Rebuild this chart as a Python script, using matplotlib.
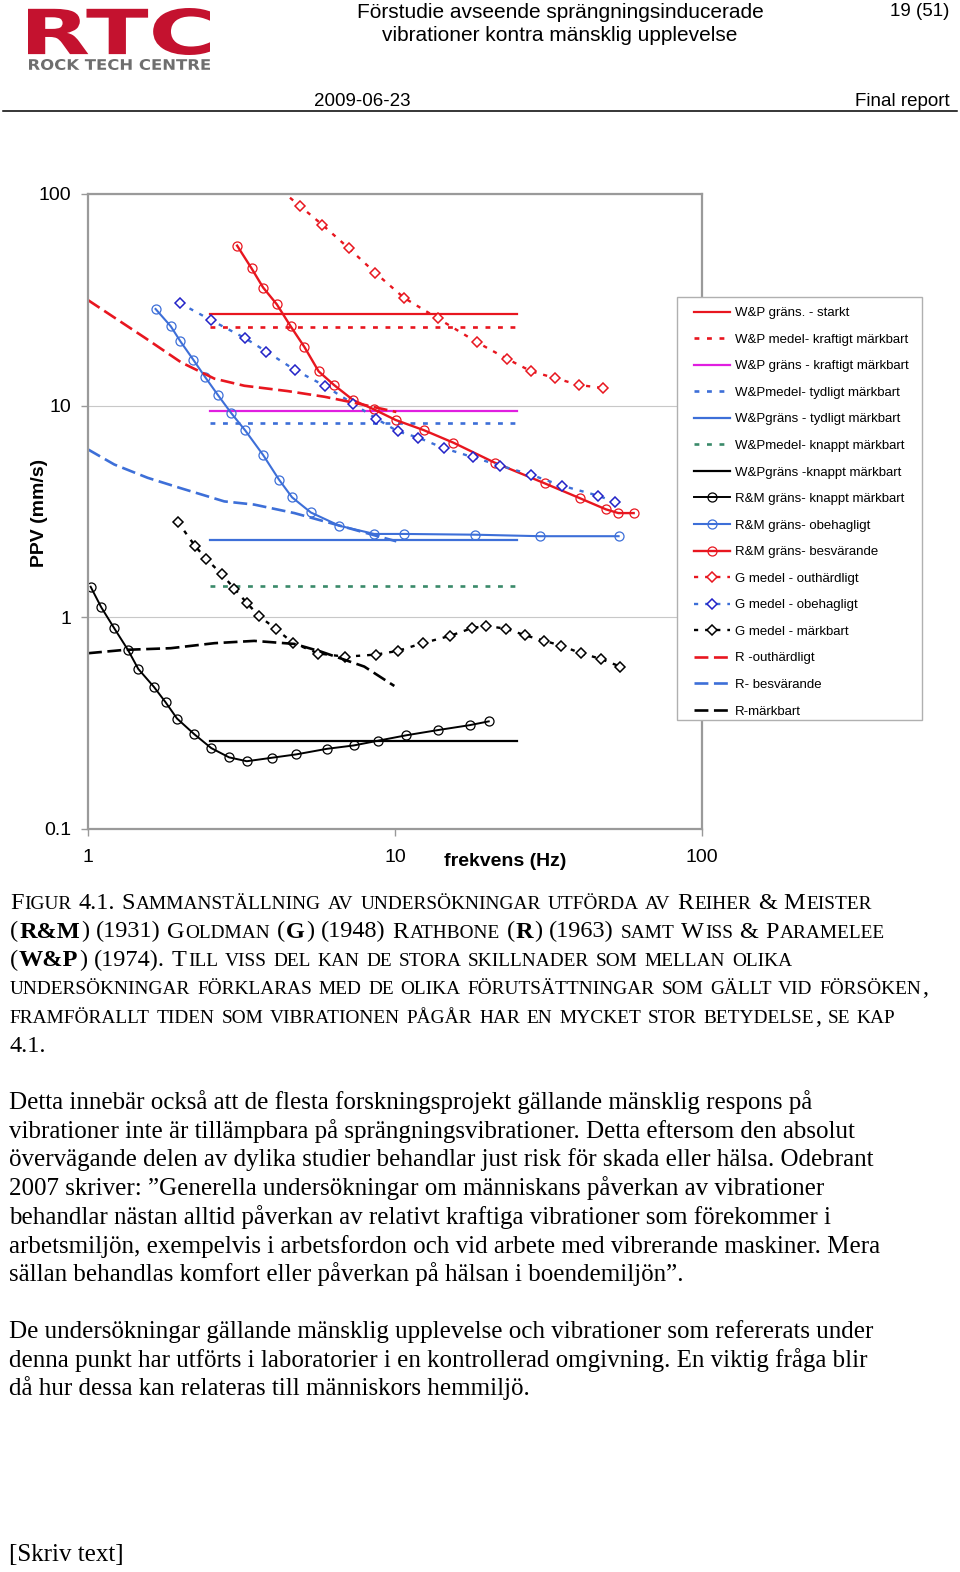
import matplotlib
matplotlib.use('Agg')
import matplotlib.pyplot as plt
from matplotlib.textpath import TextPath
from matplotlib.patches import PathPatch, Rectangle
from matplotlib.transforms import Affine2D
from matplotlib.font_manager import FontProperties
from matplotlib.ticker import NullLocator

plt.rcParams['lines.scale_dashes'] = False

# ---------------- data ----------------
wp_f = [2.5, 25]
wp_starkt = 27.1
wp_kraftigt_medel = 23.6
wp_kraftigt_grans = 9.45
wp_tydligt_medel = 8.24
wp_tydligt_grans = 2.30
wp_knappt_medel = 1.40
wp_knappt_grans = 0.26

rm_knapp_f = [1.02, 1.105, 1.215, 1.35, 1.458, 1.64, 1.79, 1.95, 2.22, 2.52, 2.88, 3.29, 3.97, 4.76,
              5.99, 7.34, 8.8, 10.9, 13.8, 17.5, 20.2]
rm_knapp_v = [1.39, 1.11, 0.889, 0.698, 0.568, 0.467, 0.395, 0.331, 0.279, 0.240, 0.217, 0.208, 0.216,
              0.224, 0.238, 0.247, 0.260, 0.276, 0.292, 0.308, 0.321]

rm_obeh_f = [1.66, 1.86, 2.00, 2.20, 2.41, 2.65, 2.93, 3.25, 3.72, 4.19, 4.62, 5.32, 6.59, 8.56, 10.7,
             18.2, 29.7, 53.5]
rm_obeh_v = [28.6, 23.7, 20.1, 16.5, 13.6, 11.2, 9.19, 7.63, 5.83, 4.46, 3.68, 3.12, 2.70, 2.47, 2.47,
             2.45, 2.41, 2.41]

rm_besv_f = [3.06, 3.41, 3.72, 4.12, 4.57, 5.07, 5.64, 6.33, 7.31, 8.52, 10.05, 12.4, 15.5, 21.1, 30.8,
             40.1, 48.6, 53.4, 59.9]
rm_besv_v = [57.0, 44.5, 36.1, 30.1, 23.7, 18.9, 14.5, 12.5, 10.6, 9.60, 8.54, 7.65, 6.67, 5.37, 4.28,
             3.64, 3.23, 3.10, 3.10]

g_outh_f = [4.0, 4.91, 5.80, 7.07, 8.61, 10.7, 13.8, 18.5, 23.2, 27.8, 33.1, 39.7, 47.7]
g_outh_v = [112, 87.6, 71.5, 55.4, 42.5, 32.3, 25.8, 19.9, 16.6, 14.5, 13.5, 12.5, 12.1]

g_obeh_f = [1.99, 2.52, 3.25, 3.81, 4.73, 5.90, 7.30, 8.69, 10.2, 11.9, 14.4, 17.9, 22.0, 27.8, 34.9,
            45.8, 52.2]
g_obeh_v = [30.5, 25.3, 20.8, 18.0, 14.7, 12.4, 10.2, 8.67, 7.55, 7.05, 6.29, 5.70, 5.20, 4.70, 4.18,
            3.75, 3.49]

g_mark_f = [1.96, 2.23, 2.43, 2.73, 3.00, 3.30, 3.61, 4.10, 4.65, 5.63, 6.89, 8.65, 10.2, 12.3, 15.1,
            17.8, 19.8, 23.0, 26.5, 30.5, 34.8, 40.3, 46.8, 54.1]
g_mark_v = [2.82, 2.17, 1.88, 1.59, 1.36, 1.16, 1.01, 0.876, 0.755, 0.672, 0.649, 0.664, 0.691, 0.752,
            0.814, 0.886, 0.908, 0.880, 0.820, 0.773, 0.732, 0.674, 0.634, 0.583]

r_outh_f = [1.0, 1.525, 2.01, 2.58, 3.23, 4.47, 5.89, 7.37, 10.1]
r_outh_v = [31.5, 21.0, 16.0, 13.4, 12.4, 11.7, 11.0, 10.3, 9.32]

r_besv_f = [1.0, 1.218, 1.565, 2.01, 2.78, 3.48, 4.70, 7.01, 8.78, 10.1]
r_besv_v = [6.20, 5.26, 4.55, 4.06, 3.52, 3.40, 3.10, 2.64, 2.41, 2.28]

r_mark_f = [1.0, 1.313, 1.86, 2.58, 3.48, 4.70, 5.74, 7.94, 9.95]
r_mark_v = [0.674, 0.699, 0.712, 0.752, 0.771, 0.746, 0.686, 0.583, 0.472]

x_ticks = [1, 10, 100]
x_ticklabels = ['1', '10', '100']
y_ticks = [0.1, 1, 10, 100]
y_ticklabels = ['0.1', '1', '10', '100']

legend_labels = [
    'W&P gräns. - starkt', 'W&P medel- kraftigt märkbart', 'W&P gräns - kraftigt märkbart',
    'W&Pmedel- tydligt märkbart', 'W&Pgräns - tydligt märkbart', 'W&Pmedel- knappt märkbart',
    'W&Pgräns -knappt märkbart', 'R&M gräns- knappt märkbart', 'R&M gräns- obehagligt',
    'R&M gräns- besvärande', 'G medel - outhärdligt', 'G medel - obehagligt', 'G medel - märkbart',
    'R -outhärdligt', 'R- besvärande', 'R-märkbart']

# ---------------- figure ----------------
W, H = 960, 1572
fig = plt.figure(figsize=(W / 100, H / 100), dpi=100, facecolor='white')
SANS = 'Liberation Sans'
SERIF = 'Liberation Serif'

bg = fig.add_axes([0, 0, 1, 1])
bg.set_xlim(0, W)
bg.set_ylim(H, 0)
bg.axis('off')


def px_axes(x0, y0, x1, y1):
    return [x0 / W, 1 - y1 / H, (x1 - x0) / W, (y1 - y0) / H]


RED = '#e8161f'
BLUE = '#3d6fd8'
DBLUE = '#2323c8'
MAG = '#e01ee0'
GREEN = '#3a8a6a'
BLK = '#000000'

SHORT = (0, (3.5, 5.5))
GDOT = (0, (3.0, 5.0))
LONG = (0, (10, 4))

ax = fig.add_axes(px_axes(88, 194, 702, 828.5))
ax.set_xscale('log')
ax.set_yscale('log')
ax.set_xlim(1, 100)
ax.set_ylim(0.1, 100)

h = []
h += ax.plot(wp_f, [wp_starkt] * 2, color=RED, lw=1.6)
h += ax.plot(wp_f, [wp_kraftigt_medel] * 2, color=RED, lw=1.9, linestyle=SHORT)
h += ax.plot(wp_f, [wp_kraftigt_grans] * 2, color=MAG, lw=1.6)
h += ax.plot(wp_f, [wp_tydligt_medel] * 2, color=BLUE, lw=1.9, linestyle=SHORT)
h += ax.plot(wp_f, [wp_tydligt_grans] * 2, color=BLUE, lw=1.6)
h += ax.plot(wp_f, [wp_knappt_medel] * 2, color=GREEN, lw=1.9, linestyle=SHORT)
h += ax.plot(wp_f, [wp_knappt_grans] * 2, color=BLK, lw=1.6)

mk = dict(marker='o', markersize=6.5, markerfacecolor='none', markeredgewidth=0.9)
h += ax.plot(rm_knapp_f, rm_knapp_v, color=BLK, lw=1.4, markeredgecolor=BLK, **mk)
h += ax.plot(rm_obeh_f, rm_obeh_v, color=BLUE, lw=1.5, markeredgecolor=BLUE, **mk)
h += ax.plot(rm_besv_f, rm_besv_v, color=RED, lw=1.7, markeredgecolor=RED, **mk)

dk = dict(marker='D', markersize=4.8, markerfacecolor='white', markeredgewidth=1.1)
h += ax.plot(g_outh_f, g_outh_v, color=RED, lw=1.7, linestyle=GDOT, markeredgecolor=RED, **dk)
h += ax.plot(g_obeh_f, g_obeh_v, color=BLUE, lw=1.7, linestyle=GDOT, markeredgecolor=DBLUE, **dk)
h += ax.plot(g_mark_f, g_mark_v, color=BLK, lw=1.7, linestyle=GDOT, markeredgecolor=BLK, **dk)

h += ax.plot(r_outh_f, r_outh_v, color=RED, lw=1.9, linestyle=LONG)
h += ax.plot(r_besv_f, r_besv_v, color=BLUE, lw=1.9, linestyle=LONG)
h += ax.plot(r_mark_f, r_mark_v, color=BLK, lw=1.9, linestyle=LONG)

ax.set_xticks(x_ticks)
ax.set_xticklabels(x_ticklabels, fontsize=14, family=SANS)
ax.set_yticks(y_ticks)
ax.set_yticklabels(y_ticklabels, fontsize=14, family=SANS)
ax.xaxis.set_minor_locator(NullLocator())
ax.yaxis.set_minor_locator(NullLocator())
ax.tick_params(axis='x', direction='out', length=5, width=1, color='#999999', pad=10)
ax.tick_params(axis='y', direction='out', length=5, width=1, color='#999999', pad=7)
for s in ax.spines.values():
    s.set_color('#9a9a9a')
    s.set_linewidth(1.6)
ax.set_axisbelow(True)
ax.grid(axis='y', which='major', color='#c8c8c8', lw=0.8)

bg.text(505, 861, 'frekvens (Hz)', ha='center', va='center', fontsize=14, fontweight='bold', family=SANS)
bg.text(40, 513, 'PPV (mm/s)', ha='center', va='center', rotation=90, fontsize=14, fontweight='bold',
        family=SANS)

# legend frame + legend
fig.add_artist(Rectangle((677 / W, 1 - 720 / H), 245 / W, 423 / H, transform=fig.transFigure,
                         facecolor='white', edgecolor='#b0b0b0', lw=1.0, zorder=3))
fig.legend(h, legend_labels, loc='upper left', bbox_to_anchor=(694 / W, 1 - 307 / H),
           frameon=False, borderpad=0, borderaxespad=0, numpoints=1,
           prop=FontProperties(family=SANS, size=9.5), handlelength=2.75, handletextpad=0.35,
           labelspacing=1.085)


# ---------------- page texts ----------------
def fit_text(s, x0, y0, x1, y1, color, family='DejaVu Sans', weight='bold'):
    tp = TextPath((0, 0), s, size=100, prop=FontProperties(family=family, weight=weight))
    bb = tp.get_extents()
    sx = (x1 - x0) / bb.width
    sy = (y1 - y0) / bb.height
    tr = Affine2D().translate(-bb.x0, -bb.y1).scale(sx, -sy).translate(x0, y0)
    bg.add_patch(PathPatch(tr.transform_path(tp), facecolor=color, edgecolor='none'))


fit_text('RTC', 28, 8, 210, 55, '#c4122f')
fit_text('ROCK TECH CENTRE', 29, 59, 210, 70, '#6e6e6e')

bg.text(560, 18, 'Förstudie avseende sprängningsinducerade', ha='center', va='baseline', fontsize=15,
        family=SANS)
bg.text(560, 41, 'vibrationer kontra mänsklig upplevelse', ha='center', va='baseline', fontsize=15,
        family=SANS)
bg.text(949, 16, '19 (51)', ha='right', va='baseline', fontsize=13.5, family=SANS)
bg.text(314, 106, '2009-06-23', ha='left', va='baseline', fontsize=13.5, family=SANS)
bg.text(950, 106, 'Final report', ha='right', va='baseline', fontsize=13.5, family=SANS)
bg.plot([3, 957], [111, 111], color='black', lw=1.1)

renderer = fig.canvas.get_renderer()


def sc_line(x, yb, segs, size, small=0.795):
    pxs = size * 100 / 72
    runs = []
    cur = None
    for text, b in segs:
        for c in text:
            if c == ' ':
                if cur:
                    runs.append(cur)
                    cur = None
                runs.append(None)
                continue
            sm = c.islower()
            if cur and cur[1] == sm and cur[2] == b:
                cur[0] += c.upper()
            else:
                if cur:
                    runs.append(cur)
                cur = [c.upper(), sm, b]
    if cur:
        runs.append(cur)
    for r in runs:
        if r is None:
            x += 0.235 * pxs
            continue
        s, sm, b = r
        t = bg.text(x, yb, s, fontsize=size * (small if sm else 1.0),
                    fontweight='bold' if b else 'normal', family=SERIF, ha='left', va='baseline',
                    color='black')
        bb = t.get_window_extent(renderer)
        x += bb.width + 1.0


caption = [
    [('Figur 4.1. Sammanställning av undersökningar utförda av Reiher & Meister', False)],
    [('(', False), ('R&M', True), (') (1931) Goldman (', False), ('G', True), (') (1948) Rathbone (', False),
     ('R', True), (') (1963) samt Wiss & Paramelee', False)],
    [('(', False), ('W&P', True), (') (1974). Till viss del kan de stora skillnader som mellan olika', False)],
    [('undersökningar förklaras med de olika förutsättningar som gällt vid försöken,', False)],
    [('framförallt tiden som vibrationen pågår har en mycket stor betydelse, se kap', False)],
    [('4.1.', False)],
]
for i, segs in enumerate(caption):
    sc_line(10, 909 + i * 28.5, segs, 17.5)

body1 = [
    "Detta innebär också att de flesta forskningsprojekt gällande mänsklig respons på",
    "vibrationer inte är tillämpbara på sprängningsvibrationer. Detta eftersom den absolut",
    "övervägande delen av dylika studier behandlar just risk för skada eller hälsa. Odebrant",
    "2007 skriver: ”Generella undersökningar om människans påverkan av vibrationer",
    "behandlar nästan alltid påverkan av relativt kraftiga vibrationer som förekommer i",
    "arbetsmiljön, exempelvis i arbetsfordon och vid arbete med vibrerande maskiner. Mera",
    "sällan behandlas komfort eller påverkan på hälsan i boendemiljön”.",
]
body2 = [
    "De undersökningar gällande mänsklig upplevelse och vibrationer som refererats under",
    "denna punkt har utförts i laboratorier i en kontrollerad omgivning. En viktig fråga blir",
    "då hur dessa kan relateras till människors hemmiljö.",
]
for i, line in enumerate(body1):
    bg.text(9, 1109 + i * 28.7, line, ha='left', va='baseline', fontsize=18, family=SERIF)
for i, line in enumerate(body2):
    bg.text(9, 1338 + i * 28.7, line, ha='left', va='baseline', fontsize=18, family=SERIF)
bg.text(9, 1561, '[Skriv text]', ha='left', va='baseline', fontsize=18, family=SERIF)

fig.savefig('out.png', dpi=100, facecolor='white')
